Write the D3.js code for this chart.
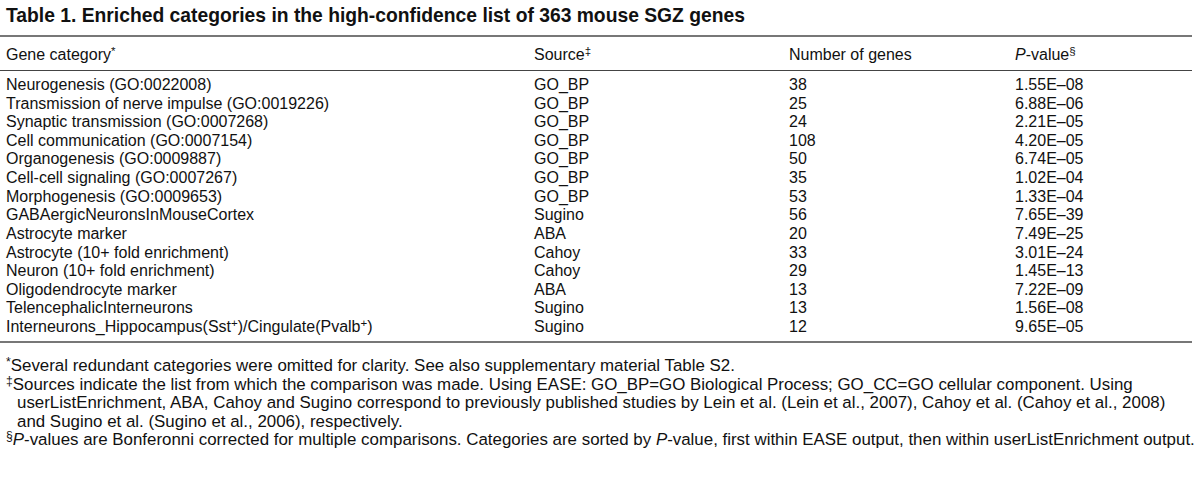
<!DOCTYPE html>
<html>
<head>
<meta charset="utf-8">
<script src="https://cdn.jsdelivr.net/npm/d3@7"></script>
<style>
  body { margin: 0; background: #fff; }
  svg text { font-family: 'Liberation Sans', Arial, Helvetica, sans-serif; fill: #111; }
</style>
</head>
<body>
<svg id="chart" width="1200" height="499"></svg>
<script>
const title = 'Table 1. Enriched categories in the high-confidence list of 363 mouse SGZ genes'

const columns = ['category', 'source', 'count', 'pvalue']

const categories = [
  'Neurogenesis (GO:0022008)',
  'Transmission of nerve impulse (GO:0019226)',
  'Synaptic transmission (GO:0007268)',
  'Cell communication (GO:0007154)',
  'Organogenesis (GO:0009887)',
  'Cell-cell signaling (GO:0007267)',
  'Morphogenesis (GO:0009653)',
  'GABAergicNeuronsInMouseCortex',
  'Astrocyte marker',
  'Astrocyte (10+ fold enrichment)',
  'Neuron (10+ fold enrichment)',
  'Oligodendrocyte marker',
  'TelencephalicInterneurons',
  'Interneurons_Hippocampus(Sst^+)/Cingulate(Pvalb^+)'
]
const sources = ['GO_BP', 'GO_BP', 'GO_BP', 'GO_BP', 'GO_BP', 'GO_BP', 'GO_BP',
  'Sugino', 'ABA', 'Cahoy', 'Cahoy', 'ABA', 'Sugino', 'Sugino']
const geneCounts = [38, 25, 24, 108, 50, 35, 53, 56, 20, 33, 29, 13, 13, 12]
const pValues = ['1.55E–08', '6.88E–06', '2.21E–05', '4.20E–05', '6.74E–05', '1.02E–04', '1.33E–04',
  '7.65E–39', '7.49E–25', '3.01E–24', '1.45E–13', '7.22E–09', '1.56E–08', '9.65E–05']

// footnotes: [marker, lines...]
const footnotes = [
  ['*', ['Several redundant categories were omitted for clarity. See also supplementary material Table S2.']],
  ['‡', ['Sources indicate the list from which the comparison was made. Using EASE: GO_BP=GO Biological Process; GO_CC=GO cellular component. Using',
    'userListEnrichment, ABA, Cahoy and Sugino correspond to previously published studies by Lein et al. (Lein et al., 2007), Cahoy et al. (Cahoy et al., 2008)',
    'and Sugino et al. (Sugino et al., 2006), respectively.']],
  ['§', ['_P_-values are Bonferonni corrected for multiple comparisons. Categories are sorted by _P_-value, first within EASE output, then within userListEnrichment output.']]
]

const svg = d3.select('#chart')
const fs = 16
const fnSize = 16.9
const supScale = 0.72

const x = d3.scaleOrdinal().domain(columns).range([6, 534, 789, 1015])
const y = d3.scaleLinear().domain([0, categories.length - 1]).range([90, 332])

// text with ^superscript and _italic_ markup
function rich (sel, str, size) {
  const parts = str.split(/(\^[^/)]+|_P_)/).filter(s => s.length)
  parts.forEach(p => {
    if (p.startsWith('^')) {
      sel.append('tspan').attr('baseline-shift', '38%').attr('font-size', size * supScale).text(p.slice(1))
    } else if (p === '_P_') {
      sel.append('tspan').attr('font-style', 'italic').text('P')
    } else {
      sel.append('tspan').text(p)
    }
  })
}

svg.append('text')
    .attr('x', 6)
    .attr('y', 22)
    .attr('font-size', 19.3)
    .attr('font-weight', 'bold')
    .text(title)

svg.append('line').attr('x1', 0).attr('x2', 1192).attr('y1', 36).attr('y2', 36)
    .attr('stroke', '#777').attr('stroke-width', 2)

// header
const head = [['category', 'Gene category^*'], ['source', 'Source^‡'], ['count', 'Number of genes'], ['pvalue', '_P_-value^§']]
head.forEach(([k, t]) => {
  const el = svg.append('text').attr('x', x(k)).attr('y', 60).attr('font-size', fs)
  rich(el, t, fs)
})

svg.append('line').attr('x1', 0).attr('x2', 1192).attr('y1', 70.5).attr('y2', 70.5)
    .attr('stroke', '#444').attr('stroke-width', 1)

const rows = svg.append('g').selectAll('g')
  .data(categories.map((c, i) => ({ category: c, source: sources[i], count: geneCounts[i], pvalue: pValues[i] })))
  .join('g')
    .attr('transform', (d, i) => 'translate(0,' + y(i) + ')')

columns.forEach(k => {
  rows.append('text')
      .attr('x', x(k))
      .attr('font-size', fs)
      .each(function (d) { rich(d3.select(this), String(d[k]), fs) })
})

svg.append('line').attr('x1', 0).attr('x2', 1192).attr('y1', 342).attr('y2', 342)
    .attr('stroke', '#777').attr('stroke-width', 2)

// footnotes
let fy = 371
footnotes.forEach(([m, lines]) => {
  lines.forEach((ln, j) => {
    const el = svg.append('text').attr('x', j === 0 ? 6 : 17).attr('y', fy).attr('font-size', fnSize)
    if (j === 0) el.append('tspan').attr('baseline-shift', '38%').attr('font-size', fnSize * supScale).text(m)
    rich(el, ln, fnSize)
    fy += 18.6
  })
})
</script>
</body>
</html>
